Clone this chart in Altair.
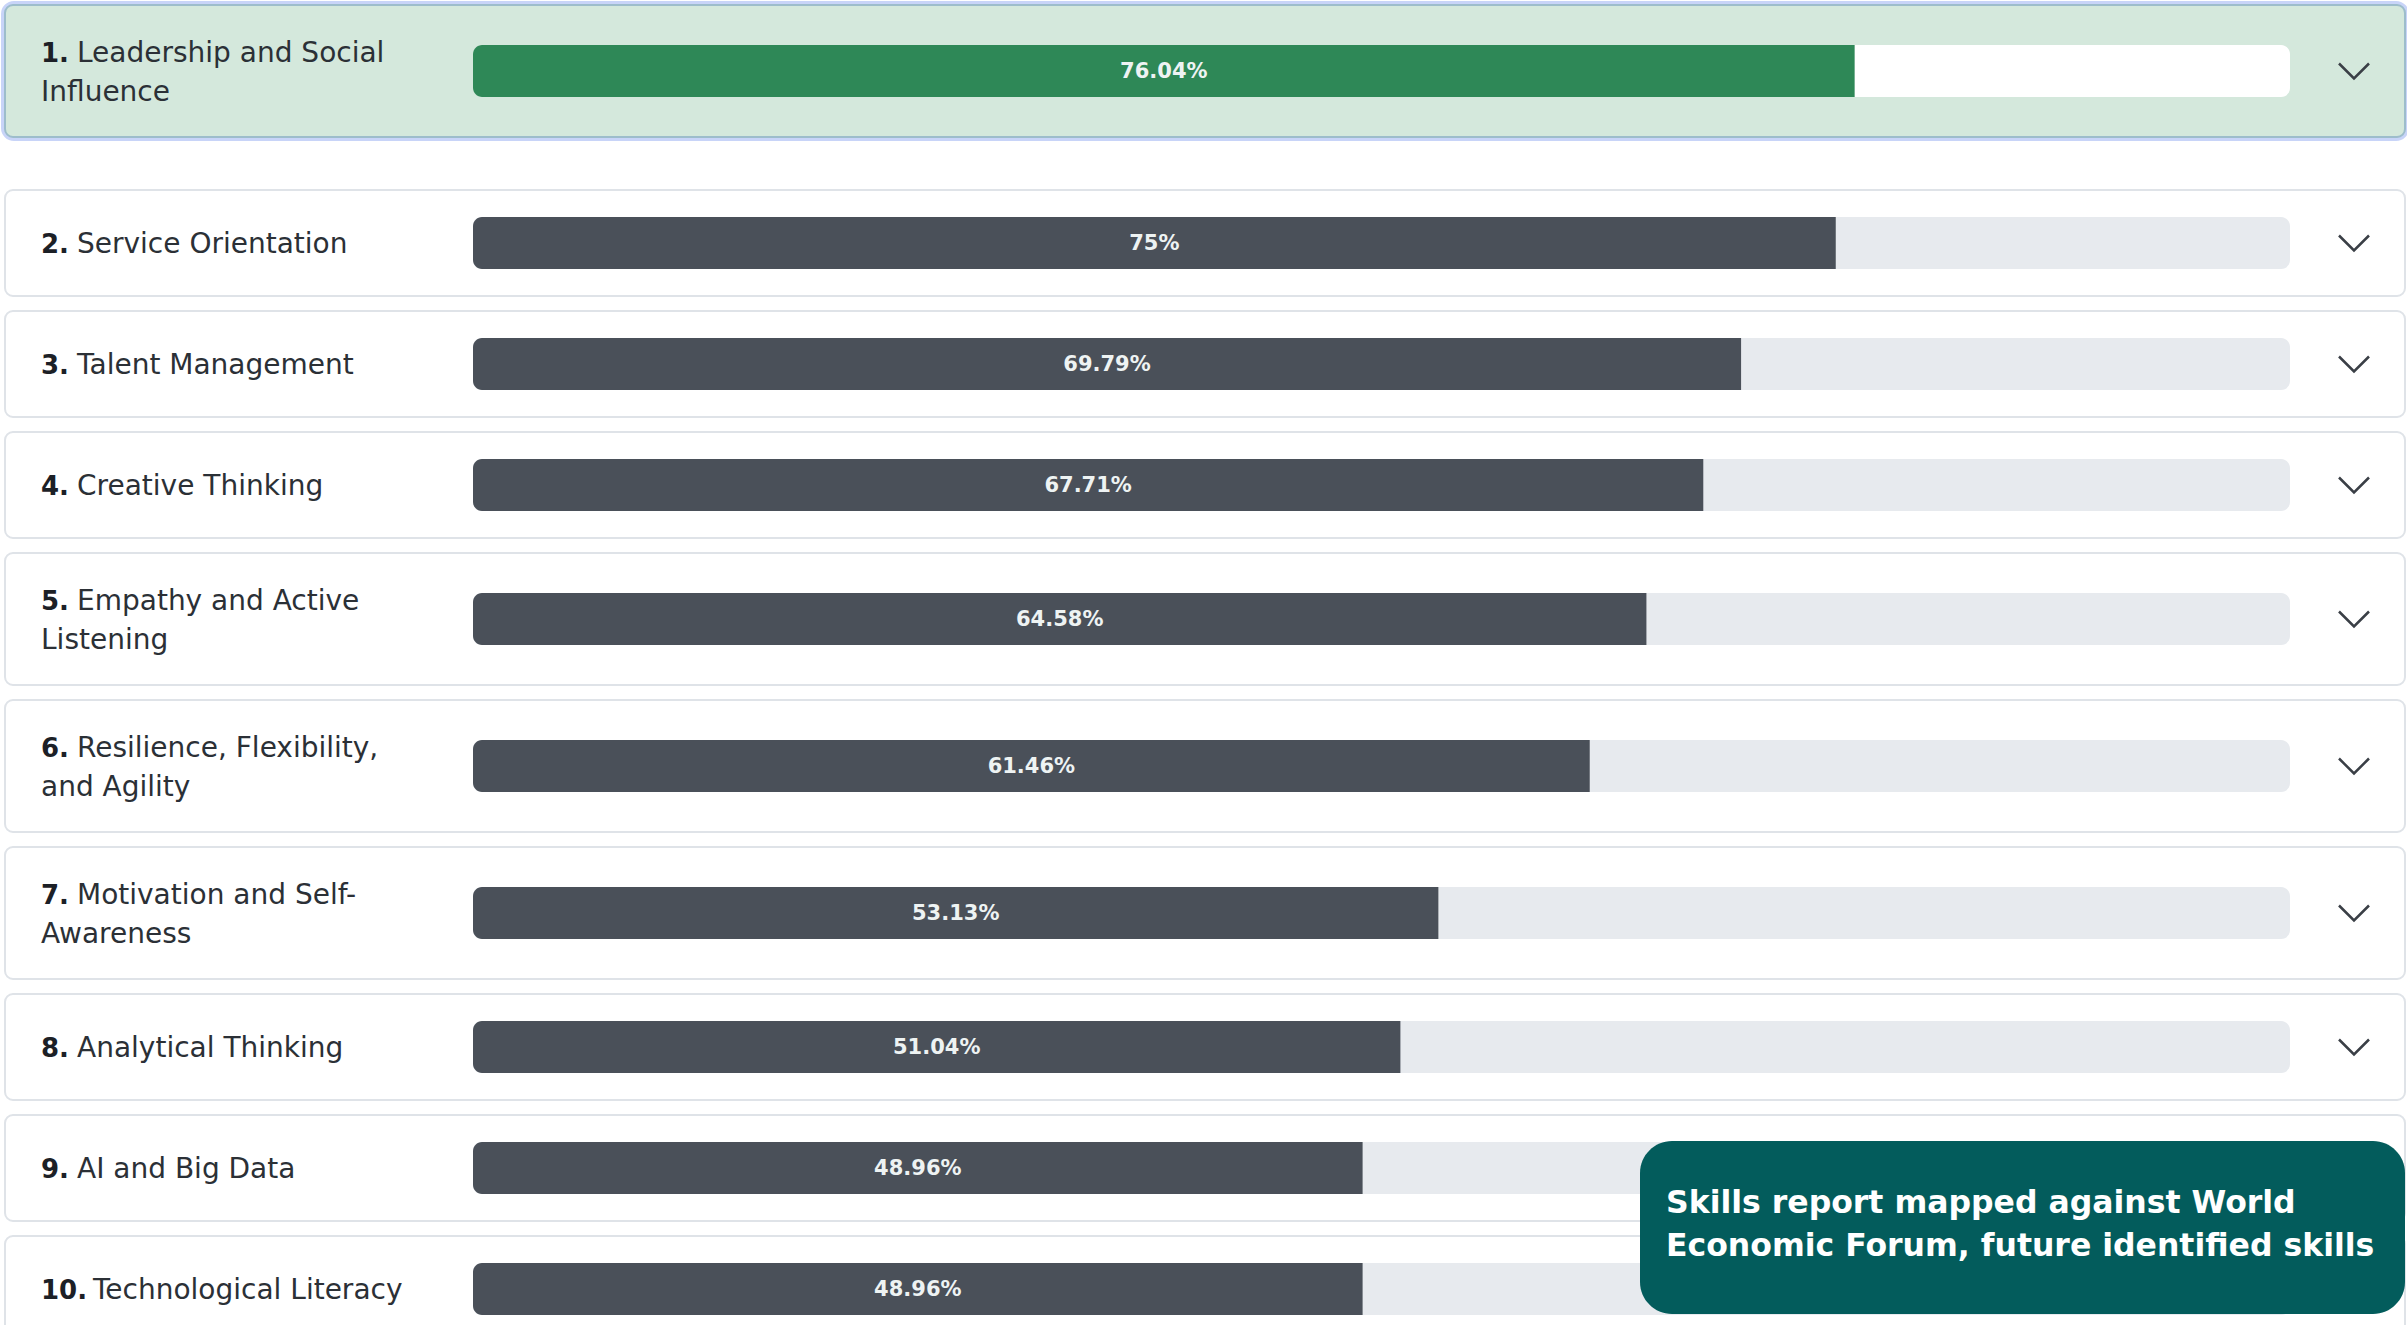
import altair as alt
import pandas as pd

# ---------------- data ----------------
SKILL_LINES = [
    ["Leadership and Social", "Influence"],
    ["Service Orientation"],
    ["Talent Management"],
    ["Creative Thinking"],
    ["Empathy and Active", "Listening"],
    ["Resilience, Flexibility,", "and Agility"],
    ["Motivation and Self-", "Awareness"],
    ["Analytical Thinking"],
    ["AI and Big Data"],
    ["Technological Literacy"],
]
SCORES = [76.04, 75, 69.79, 67.71, 64.58, 61.46, 53.13, 51.04, 48.96, 48.96]
NOTE_LINES = ["Skills report mapped against World",
              "Economic Forum, future identified skills"]

# ---------------- layout / style ----------------
W, H = 2407, 1325
CARD_X0, CARD_X1 = 5, 2405
TRACK_X0, TRACK_X1 = 473, 2290
FIRST_TOP, FIRST_GAP, GAP = 5, 53, 15
H_SINGLE, H_DOUBLE = 106, 132
BAR_H = 52
LINE_OFF = 19.5
TEXT_DY = 2
NUM_X = 41
NAME_X_1DIGIT, NAME_X_2DIGIT = 77, 93
CHEVRON_X = 2354
NOTE_X0, NOTE_X1, NOTE_Y0, NOTE_Y1 = 1640, 2405, 1141, 1314
NOTE_TEXT_X, NOTE_LINE_Y = 1666, [1204, 1247]

FONT = "DejaVu Sans"
GREEN = "#2e8857"
GREEN_BG = "#d4e8dc"
GREEN_STROKE = "#9dbdcb"
GLOW = "#c8d4f8"
DARK = "#4a5059"
TRACK = "#e7eaee"
CARD_STROKE = "#dfe3e8"
TEAL = "#035c5c"

rows = []
y = FIRST_TOP
for i, (lines, v) in enumerate(zip(SKILL_LINES, SCORES)):
    h = H_DOUBLE if len(lines) > 1 else H_SINGLE
    c = y + h / 2
    two = len(lines) > 1
    rows.append({
        "rank": i + 1,
        "line1": lines[0],
        "line2": lines[1] if two else "",
        "value": v,
        "top": y,
        "bottom": y + h,
        "center": c,
        "bar_top": c - BAR_H / 2,
        "bar_bot": c + BAR_H / 2,
        "l1_y": c - LINE_OFF if two else c,
        "l2_y": c + LINE_OFF,
    })
    y += h + (FIRST_GAP if i == 0 else GAP)
df = pd.DataFrame(rows)

ys = alt.Scale(domain=[0, H], range=[0, H], nice=False, zero=False)
xs = alt.Scale(domain=[0, 100], range=[TRACK_X0, TRACK_X1], nice=False, zero=False)

base = alt.Chart(df).transform_calculate(
    start="0", full="100", half="datum.value / 2",
    label="datum.value + '%'", num="datum.rank + '.'"
)
is_first = alt.datum.rank == 1

glow = base.transform_filter(is_first).mark_rect(
    cornerRadius=9, fill=GREEN_BG, stroke=GLOW, strokeWidth=8
).encode(
    x=alt.value(CARD_X0), x2=alt.value(CARD_X1),
    y=alt.Y("top:Q", scale=ys, axis=None), y2="bottom:Q",
)

cards = base.mark_rect(cornerRadius=8, strokeWidth=2).encode(
    x=alt.value(CARD_X0), x2=alt.value(CARD_X1),
    y=alt.Y("top:Q", scale=ys, axis=None), y2="bottom:Q",
    fill=alt.condition(is_first, alt.value(GREEN_BG), alt.value("white")),
    stroke=alt.condition(is_first, alt.value(GREEN_STROKE), alt.value(CARD_STROKE)),
)

track = base.mark_rect(cornerRadius=9).encode(
    x=alt.X("start:Q", scale=xs, axis=None), x2="full:Q",
    y=alt.Y("bar_top:Q", scale=ys, axis=None), y2="bar_bot:Q",
    fill=alt.condition(is_first, alt.value("white"), alt.value(TRACK)),
)

bar = base.mark_rect(cornerRadiusTopLeft=9, cornerRadiusBottomLeft=9).encode(
    x=alt.X("start:Q", scale=xs, axis=None), x2="value:Q",
    y=alt.Y("bar_top:Q", scale=ys, axis=None), y2="bar_bot:Q",
    fill=alt.condition(is_first, alt.value(GREEN), alt.value(DARK)),
)

value_text = base.mark_text(
    font=FONT, fontSize=21, fontWeight="bold", color="#eef3f3",
    align="center", baseline="middle", dy=1
).encode(
    x=alt.X("half:Q", scale=xs, axis=None),
    y=alt.Y("center:Q", scale=ys, axis=None),
    text="label:N",
)

num_text = base.mark_text(
    font=FONT, fontSize=26, fontWeight="bold", color="#1c2026",
    align="left", baseline="middle", dy=TEXT_DY
).encode(
    x=alt.value(NUM_X), y=alt.Y("l1_y:Q", scale=ys, axis=None), text="num:N"
)

name1a = base.transform_filter(alt.datum.rank < 10).mark_text(
    font=FONT, fontSize=28, color="#2b3036", align="left", baseline="middle", dy=TEXT_DY
).encode(
    x=alt.value(NAME_X_1DIGIT), y=alt.Y("l1_y:Q", scale=ys, axis=None), text="line1:N"
)
name1b = base.transform_filter(alt.datum.rank >= 10).mark_text(
    font=FONT, fontSize=28, color="#2b3036", align="left", baseline="middle", dy=TEXT_DY
).encode(
    x=alt.value(NAME_X_2DIGIT), y=alt.Y("l1_y:Q", scale=ys, axis=None), text="line1:N"
)
name2 = base.transform_filter("datum.line2 != ''").mark_text(
    font=FONT, fontSize=28, color="#2b3036", align="left", baseline="middle", dy=TEXT_DY
).encode(
    x=alt.value(NUM_X), y=alt.Y("l2_y:Q", scale=ys, axis=None), text="line2:N"
)

chevron = base.mark_point(
    shape="M -1 -0.5 L 0 0.5 L 1 -0.5", filled=False, size=900,
    strokeWidth=2.5, color="#3a3f46", opacity=1
).encode(
    x=alt.value(CHEVRON_X), y=alt.Y("center:Q", scale=ys, axis=None)
)

note_df = pd.DataFrame({"line": NOTE_LINES, "idx": [0, 1]})
note_box = alt.Chart(note_df).transform_filter(alt.datum.idx == 0).mark_rect(
    cornerRadius=32, fill=TEAL
).encode(
    x=alt.value(NOTE_X0), x2=alt.value(NOTE_X1),
    y=alt.value(NOTE_Y0), y2=alt.value(NOTE_Y1),
)
note_texts = [
    alt.Chart(note_df).transform_filter(alt.datum.idx == k).mark_text(
        font=FONT, fontSize=31.5, fontWeight="bold", color="white",
        align="left", baseline="middle"
    ).encode(x=alt.value(NOTE_TEXT_X), y=alt.value(NOTE_LINE_Y[k]), text="line:N")
    for k in range(2)
]

chart = alt.layer(
    glow, cards, track, bar, value_text, num_text, name1a, name1b, name2,
    chevron, note_box, *note_texts
).properties(
    width=W, height=H,
    autosize=alt.AutoSizeParams(type="none"),
    padding=0, background="white",
).configure_view(stroke=None)

chart.save("out.html", embed_options={"renderer": "svg", "actions": False})
